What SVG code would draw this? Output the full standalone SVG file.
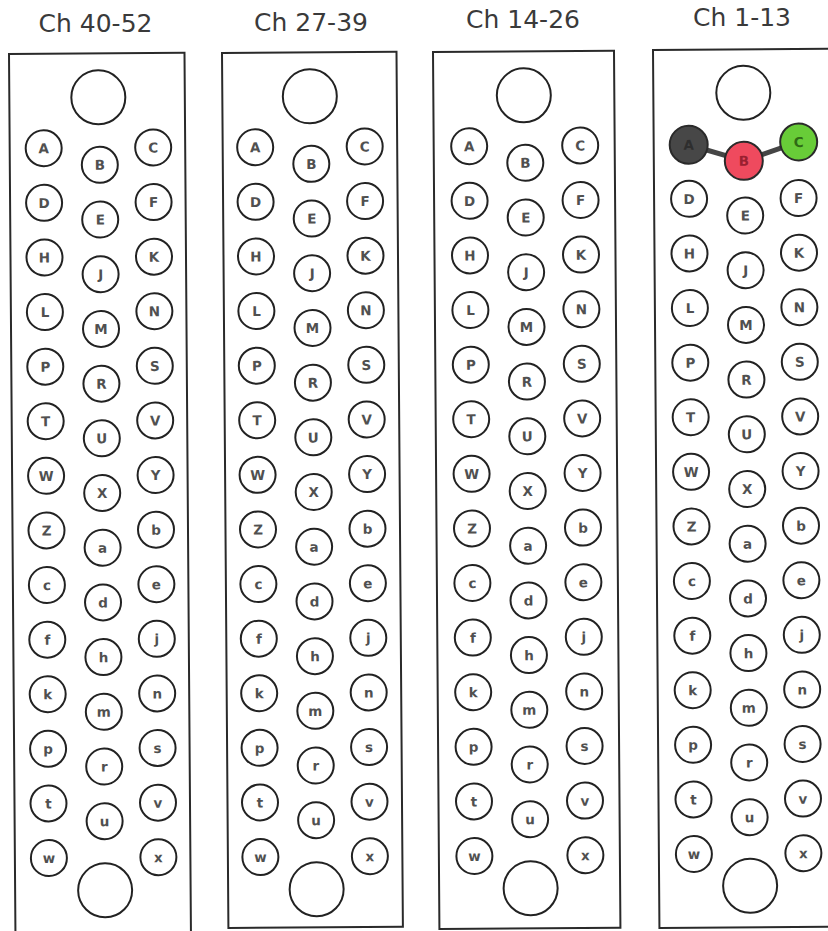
<svg xmlns="http://www.w3.org/2000/svg" width="828" height="931" viewBox="0 0 828 931">
<style>
.bg{fill:#ffffff}
.frame{fill:#ffffff;stroke:#2a2a2a;stroke-width:2}
.title{font-family:"DejaVu Sans",Verdana,sans-serif;font-size:25px;fill:#3a3a3a;text-anchor:middle}
.n circle{fill:#ffffff;stroke:#222222;stroke-width:2}
.n text{font-family:"DejaVu Sans",Verdana,sans-serif;font-size:13.5px;font-weight:bold;fill:#505050;text-anchor:middle}
.big{fill:#ffffff;stroke:#222222;stroke-width:2}
.link{stroke:#454545;stroke-width:5;stroke-linecap:round}
.n.dk circle{fill:#474747;stroke:#2a2a2a}
.n.dk text{fill:#2e2e2e}
.n.rd circle{fill:#ef4a5e;stroke:#2a2a2a}
.n.rd text{fill:#9a2030}
.n.gr circle{fill:#68cc38;stroke:#2a2a2a}
.n.gr text{fill:#2f6a15}
</style>
<rect class="bg" x="0" y="0" width="828" height="931"/>
<text class="title" x="95.5" y="32">Ch 40-52</text>
<text class="title" x="311" y="31">Ch 27-39</text>
<text class="title" x="523" y="28">Ch 14-26</text>
<text class="title" x="742" y="26">Ch 1-13</text>

<!-- Panel 1 -->
<g id="panel-40-52" transform="translate(9,54) rotate(-0.42)">
<rect class="frame" x="0" y="0" width="175.5" height="882"/>
<g id="p1-top"><circle class="big" cx="89" cy="44" r="27"/></g>
<g id="p1-bottom"><circle class="big" cx="90" cy="837" r="27"/></g>
<g id="p1-A" class="n" transform="translate(34,94.5)"><circle r="18"/><text y="5">A</text></g>
<g id="p1-D" class="n" transform="translate(34,149.1)"><circle r="18"/><text y="5">D</text></g>
<g id="p1-H" class="n" transform="translate(34,203.7)"><circle r="18"/><text y="5">H</text></g>
<g id="p1-L" class="n" transform="translate(34,258.3)"><circle r="18"/><text y="5">L</text></g>
<g id="p1-P" class="n" transform="translate(34,312.9)"><circle r="18"/><text y="5">P</text></g>
<g id="p1-T" class="n" transform="translate(34,367.5)"><circle r="18"/><text y="5">T</text></g>
<g id="p1-W" class="n" transform="translate(34,422.1)"><circle r="18"/><text y="5">W</text></g>
<g id="p1-Z" class="n" transform="translate(34,476.7)"><circle r="18"/><text y="5">Z</text></g>
<g id="p1-c" class="n" transform="translate(34,531.3)"><circle r="18"/><text y="5">c</text></g>
<g id="p1-f" class="n" transform="translate(34,585.9)"><circle r="18"/><text y="5">f</text></g>
<g id="p1-k" class="n" transform="translate(34,640.5)"><circle r="18"/><text y="5">k</text></g>
<g id="p1-p" class="n" transform="translate(34,695.1)"><circle r="18"/><text y="5">p</text></g>
<g id="p1-t" class="n" transform="translate(34,749.7)"><circle r="18"/><text y="5">t</text></g>
<g id="p1-w" class="n" transform="translate(34,804.3)"><circle r="18"/><text y="5">w</text></g>
<g id="p1-B" class="n" transform="translate(90,111.5)"><circle r="18"/><text y="5">B</text></g>
<g id="p1-E" class="n" transform="translate(90,166.2)"><circle r="18"/><text y="5">E</text></g>
<g id="p1-J" class="n" transform="translate(90,220.9)"><circle r="18"/><text y="5">J</text></g>
<g id="p1-M" class="n" transform="translate(90,275.6)"><circle r="18"/><text y="5">M</text></g>
<g id="p1-R" class="n" transform="translate(90,330.3)"><circle r="18"/><text y="5">R</text></g>
<g id="p1-U" class="n" transform="translate(90,385)"><circle r="18"/><text y="5">U</text></g>
<g id="p1-X" class="n" transform="translate(90,439.7)"><circle r="18"/><text y="5">X</text></g>
<g id="p1-a" class="n" transform="translate(90,494.4)"><circle r="18"/><text y="5">a</text></g>
<g id="p1-d" class="n" transform="translate(90,549.1)"><circle r="18"/><text y="5">d</text></g>
<g id="p1-h" class="n" transform="translate(90,603.8)"><circle r="18"/><text y="5">h</text></g>
<g id="p1-m" class="n" transform="translate(90,658.5)"><circle r="18"/><text y="5">m</text></g>
<g id="p1-r" class="n" transform="translate(90,713.2)"><circle r="18"/><text y="5">r</text></g>
<g id="p1-u" class="n" transform="translate(90,767.9)"><circle r="18"/><text y="5">u</text></g>
<g id="p1-C" class="n" transform="translate(143.5,94.5)"><circle r="18"/><text y="5">C</text></g>
<g id="p1-F" class="n" transform="translate(143.5,149.1)"><circle r="18"/><text y="5">F</text></g>
<g id="p1-K" class="n" transform="translate(143.5,203.7)"><circle r="18"/><text y="5">K</text></g>
<g id="p1-N" class="n" transform="translate(143.5,258.3)"><circle r="18"/><text y="5">N</text></g>
<g id="p1-S" class="n" transform="translate(143.5,312.9)"><circle r="18"/><text y="5">S</text></g>
<g id="p1-V" class="n" transform="translate(143.5,367.5)"><circle r="18"/><text y="5">V</text></g>
<g id="p1-Y" class="n" transform="translate(143.5,422.1)"><circle r="18"/><text y="5">Y</text></g>
<g id="p1-b" class="n" transform="translate(143.5,476.7)"><circle r="18"/><text y="5">b</text></g>
<g id="p1-e" class="n" transform="translate(143.5,531.3)"><circle r="18"/><text y="5">e</text></g>
<g id="p1-j" class="n" transform="translate(143.5,585.9)"><circle r="18"/><text y="5">j</text></g>
<g id="p1-n" class="n" transform="translate(143.5,640.5)"><circle r="18"/><text y="5">n</text></g>
<g id="p1-s" class="n" transform="translate(143.5,695.1)"><circle r="18"/><text y="5">s</text></g>
<g id="p1-v" class="n" transform="translate(143.5,749.7)"><circle r="18"/><text y="5">v</text></g>
<g id="p1-x" class="n" transform="translate(143.5,804.3)"><circle r="18"/><text y="5">x</text></g>
</g>

<!-- Panel 2 -->
<g id="panel-27-39" transform="translate(222,53) rotate(-0.42)">
<rect class="frame" x="0" y="0" width="174.5" height="875"/>
<g transform="translate(-1.5,0)">
<g id="p2-top"><circle class="big" cx="89" cy="44" r="27"/></g>
<g id="p2-bottom"><circle class="big" cx="90" cy="837" r="27"/></g>
<g id="p2-A" class="n" transform="translate(34,94.5)"><circle r="18"/><text y="5">A</text></g>
<g id="p2-D" class="n" transform="translate(34,149.1)"><circle r="18"/><text y="5">D</text></g>
<g id="p2-H" class="n" transform="translate(34,203.7)"><circle r="18"/><text y="5">H</text></g>
<g id="p2-L" class="n" transform="translate(34,258.3)"><circle r="18"/><text y="5">L</text></g>
<g id="p2-P" class="n" transform="translate(34,312.9)"><circle r="18"/><text y="5">P</text></g>
<g id="p2-T" class="n" transform="translate(34,367.5)"><circle r="18"/><text y="5">T</text></g>
<g id="p2-W" class="n" transform="translate(34,422.1)"><circle r="18"/><text y="5">W</text></g>
<g id="p2-Z" class="n" transform="translate(34,476.7)"><circle r="18"/><text y="5">Z</text></g>
<g id="p2-c" class="n" transform="translate(34,531.3)"><circle r="18"/><text y="5">c</text></g>
<g id="p2-f" class="n" transform="translate(34,585.9)"><circle r="18"/><text y="5">f</text></g>
<g id="p2-k" class="n" transform="translate(34,640.5)"><circle r="18"/><text y="5">k</text></g>
<g id="p2-p" class="n" transform="translate(34,695.1)"><circle r="18"/><text y="5">p</text></g>
<g id="p2-t" class="n" transform="translate(34,749.7)"><circle r="18"/><text y="5">t</text></g>
<g id="p2-w" class="n" transform="translate(34,804.3)"><circle r="18"/><text y="5">w</text></g>
<g id="p2-B" class="n" transform="translate(90,111.5)"><circle r="18"/><text y="5">B</text></g>
<g id="p2-E" class="n" transform="translate(90,166.2)"><circle r="18"/><text y="5">E</text></g>
<g id="p2-J" class="n" transform="translate(90,220.9)"><circle r="18"/><text y="5">J</text></g>
<g id="p2-M" class="n" transform="translate(90,275.6)"><circle r="18"/><text y="5">M</text></g>
<g id="p2-R" class="n" transform="translate(90,330.3)"><circle r="18"/><text y="5">R</text></g>
<g id="p2-U" class="n" transform="translate(90,385)"><circle r="18"/><text y="5">U</text></g>
<g id="p2-X" class="n" transform="translate(90,439.7)"><circle r="18"/><text y="5">X</text></g>
<g id="p2-a" class="n" transform="translate(90,494.4)"><circle r="18"/><text y="5">a</text></g>
<g id="p2-d" class="n" transform="translate(90,549.1)"><circle r="18"/><text y="5">d</text></g>
<g id="p2-h" class="n" transform="translate(90,603.8)"><circle r="18"/><text y="5">h</text></g>
<g id="p2-m" class="n" transform="translate(90,658.5)"><circle r="18"/><text y="5">m</text></g>
<g id="p2-r" class="n" transform="translate(90,713.2)"><circle r="18"/><text y="5">r</text></g>
<g id="p2-u" class="n" transform="translate(90,767.9)"><circle r="18"/><text y="5">u</text></g>
<g id="p2-C" class="n" transform="translate(143.5,94.5)"><circle r="18"/><text y="5">C</text></g>
<g id="p2-F" class="n" transform="translate(143.5,149.1)"><circle r="18"/><text y="5">F</text></g>
<g id="p2-K" class="n" transform="translate(143.5,203.7)"><circle r="18"/><text y="5">K</text></g>
<g id="p2-N" class="n" transform="translate(143.5,258.3)"><circle r="18"/><text y="5">N</text></g>
<g id="p2-S" class="n" transform="translate(143.5,312.9)"><circle r="18"/><text y="5">S</text></g>
<g id="p2-V" class="n" transform="translate(143.5,367.5)"><circle r="18"/><text y="5">V</text></g>
<g id="p2-Y" class="n" transform="translate(143.5,422.1)"><circle r="18"/><text y="5">Y</text></g>
<g id="p2-b" class="n" transform="translate(143.5,476.7)"><circle r="18"/><text y="5">b</text></g>
<g id="p2-e" class="n" transform="translate(143.5,531.3)"><circle r="18"/><text y="5">e</text></g>
<g id="p2-j" class="n" transform="translate(143.5,585.9)"><circle r="18"/><text y="5">j</text></g>
<g id="p2-n" class="n" transform="translate(143.5,640.5)"><circle r="18"/><text y="5">n</text></g>
<g id="p2-s" class="n" transform="translate(143.5,695.1)"><circle r="18"/><text y="5">s</text></g>
<g id="p2-v" class="n" transform="translate(143.5,749.7)"><circle r="18"/><text y="5">v</text></g>
<g id="p2-x" class="n" transform="translate(143.5,804.3)"><circle r="18"/><text y="5">x</text></g>
</g>
</g>

<!-- Panel 3 -->
<g id="panel-14-26" transform="translate(433,52) rotate(-0.42)">
<rect class="frame" x="0" y="0" width="181" height="877"/>
<g transform="translate(1.5,0)">
<g id="p3-top"><circle class="big" cx="89" cy="44" r="27"/></g>
<g id="p3-bottom"><circle class="big" cx="90" cy="837" r="27"/></g>
<g id="p3-A" class="n" transform="translate(34,94.5)"><circle r="18"/><text y="5">A</text></g>
<g id="p3-D" class="n" transform="translate(34,149.1)"><circle r="18"/><text y="5">D</text></g>
<g id="p3-H" class="n" transform="translate(34,203.7)"><circle r="18"/><text y="5">H</text></g>
<g id="p3-L" class="n" transform="translate(34,258.3)"><circle r="18"/><text y="5">L</text></g>
<g id="p3-P" class="n" transform="translate(34,312.9)"><circle r="18"/><text y="5">P</text></g>
<g id="p3-T" class="n" transform="translate(34,367.5)"><circle r="18"/><text y="5">T</text></g>
<g id="p3-W" class="n" transform="translate(34,422.1)"><circle r="18"/><text y="5">W</text></g>
<g id="p3-Z" class="n" transform="translate(34,476.7)"><circle r="18"/><text y="5">Z</text></g>
<g id="p3-c" class="n" transform="translate(34,531.3)"><circle r="18"/><text y="5">c</text></g>
<g id="p3-f" class="n" transform="translate(34,585.9)"><circle r="18"/><text y="5">f</text></g>
<g id="p3-k" class="n" transform="translate(34,640.5)"><circle r="18"/><text y="5">k</text></g>
<g id="p3-p" class="n" transform="translate(34,695.1)"><circle r="18"/><text y="5">p</text></g>
<g id="p3-t" class="n" transform="translate(34,749.7)"><circle r="18"/><text y="5">t</text></g>
<g id="p3-w" class="n" transform="translate(34,804.3)"><circle r="18"/><text y="5">w</text></g>
<g id="p3-B" class="n" transform="translate(90,111.5)"><circle r="18"/><text y="5">B</text></g>
<g id="p3-E" class="n" transform="translate(90,166.2)"><circle r="18"/><text y="5">E</text></g>
<g id="p3-J" class="n" transform="translate(90,220.9)"><circle r="18"/><text y="5">J</text></g>
<g id="p3-M" class="n" transform="translate(90,275.6)"><circle r="18"/><text y="5">M</text></g>
<g id="p3-R" class="n" transform="translate(90,330.3)"><circle r="18"/><text y="5">R</text></g>
<g id="p3-U" class="n" transform="translate(90,385)"><circle r="18"/><text y="5">U</text></g>
<g id="p3-X" class="n" transform="translate(90,439.7)"><circle r="18"/><text y="5">X</text></g>
<g id="p3-a" class="n" transform="translate(90,494.4)"><circle r="18"/><text y="5">a</text></g>
<g id="p3-d" class="n" transform="translate(90,549.1)"><circle r="18"/><text y="5">d</text></g>
<g id="p3-h" class="n" transform="translate(90,603.8)"><circle r="18"/><text y="5">h</text></g>
<g id="p3-m" class="n" transform="translate(90,658.5)"><circle r="18"/><text y="5">m</text></g>
<g id="p3-r" class="n" transform="translate(90,713.2)"><circle r="18"/><text y="5">r</text></g>
<g id="p3-u" class="n" transform="translate(90,767.9)"><circle r="18"/><text y="5">u</text></g>
<g id="p3-C" class="n" transform="translate(145,94.5)"><circle r="18"/><text y="5">C</text></g>
<g id="p3-F" class="n" transform="translate(145,149.1)"><circle r="18"/><text y="5">F</text></g>
<g id="p3-K" class="n" transform="translate(145,203.7)"><circle r="18"/><text y="5">K</text></g>
<g id="p3-N" class="n" transform="translate(145,258.3)"><circle r="18"/><text y="5">N</text></g>
<g id="p3-S" class="n" transform="translate(145,312.9)"><circle r="18"/><text y="5">S</text></g>
<g id="p3-V" class="n" transform="translate(145,367.5)"><circle r="18"/><text y="5">V</text></g>
<g id="p3-Y" class="n" transform="translate(145,422.1)"><circle r="18"/><text y="5">Y</text></g>
<g id="p3-b" class="n" transform="translate(145,476.7)"><circle r="18"/><text y="5">b</text></g>
<g id="p3-e" class="n" transform="translate(145,531.3)"><circle r="18"/><text y="5">e</text></g>
<g id="p3-j" class="n" transform="translate(145,585.9)"><circle r="18"/><text y="5">j</text></g>
<g id="p3-n" class="n" transform="translate(145,640.5)"><circle r="18"/><text y="5">n</text></g>
<g id="p3-s" class="n" transform="translate(145,695.1)"><circle r="18"/><text y="5">s</text></g>
<g id="p3-v" class="n" transform="translate(145,749.7)"><circle r="18"/><text y="5">v</text></g>
<g id="p3-x" class="n" transform="translate(145,804.3)"><circle r="18"/><text y="5">x</text></g>
</g>
</g>

<!-- Panel 4 -->
<g id="panel-1-13" transform="translate(653,50) rotate(-0.42)">
<rect class="frame" x="0" y="0" width="178" height="878"/>
<g id="p4-connectors">
<line class="link" x1="35" y1="95" x2="90" y2="111.5"/>
<line class="link" x1="90" y1="111.5" x2="145" y2="93"/>
</g>
<g id="p4-top"><circle class="big" cx="90" cy="43.5" r="27"/></g>
<g id="p4-bottom"><circle class="big" cx="91" cy="836.5" r="27"/></g>
<g id="p4-A" class="n dk" transform="translate(35,95)"><circle r="19"/><text y="5">A</text></g>
<g id="p4-D" class="n" transform="translate(35,149.1)"><circle r="18"/><text y="5">D</text></g>
<g id="p4-H" class="n" transform="translate(35,203.7)"><circle r="18"/><text y="5">H</text></g>
<g id="p4-L" class="n" transform="translate(35,258.3)"><circle r="18"/><text y="5">L</text></g>
<g id="p4-P" class="n" transform="translate(35,312.9)"><circle r="18"/><text y="5">P</text></g>
<g id="p4-T" class="n" transform="translate(35,367.5)"><circle r="18"/><text y="5">T</text></g>
<g id="p4-W" class="n" transform="translate(35,422.1)"><circle r="18"/><text y="5">W</text></g>
<g id="p4-Z" class="n" transform="translate(35,476.7)"><circle r="18"/><text y="5">Z</text></g>
<g id="p4-c" class="n" transform="translate(35,531.3)"><circle r="18"/><text y="5">c</text></g>
<g id="p4-f" class="n" transform="translate(35,585.9)"><circle r="18"/><text y="5">f</text></g>
<g id="p4-k" class="n" transform="translate(35,640.5)"><circle r="18"/><text y="5">k</text></g>
<g id="p4-p" class="n" transform="translate(35,695.1)"><circle r="18"/><text y="5">p</text></g>
<g id="p4-t" class="n" transform="translate(35,749.7)"><circle r="18"/><text y="5">t</text></g>
<g id="p4-w" class="n" transform="translate(35,804.3)"><circle r="18"/><text y="5">w</text></g>
<g id="p4-B" class="n rd" transform="translate(90,111.5)"><circle r="19"/><text y="5">B</text></g>
<g id="p4-E" class="n" transform="translate(91,166.2)"><circle r="18"/><text y="5">E</text></g>
<g id="p4-J" class="n" transform="translate(91,220.9)"><circle r="18"/><text y="5">J</text></g>
<g id="p4-M" class="n" transform="translate(91,275.6)"><circle r="18"/><text y="5">M</text></g>
<g id="p4-R" class="n" transform="translate(91,330.3)"><circle r="18"/><text y="5">R</text></g>
<g id="p4-U" class="n" transform="translate(91,385)"><circle r="18"/><text y="5">U</text></g>
<g id="p4-X" class="n" transform="translate(91,439.7)"><circle r="18"/><text y="5">X</text></g>
<g id="p4-a" class="n" transform="translate(91,494.4)"><circle r="18"/><text y="5">a</text></g>
<g id="p4-d" class="n" transform="translate(91,549.1)"><circle r="18"/><text y="5">d</text></g>
<g id="p4-h" class="n" transform="translate(91,603.8)"><circle r="18"/><text y="5">h</text></g>
<g id="p4-m" class="n" transform="translate(91,658.5)"><circle r="18"/><text y="5">m</text></g>
<g id="p4-r" class="n" transform="translate(91,713.2)"><circle r="18"/><text y="5">r</text></g>
<g id="p4-u" class="n" transform="translate(91,767.9)"><circle r="18"/><text y="5">u</text></g>
<g id="p4-C" class="n gr" transform="translate(145,93)"><circle r="18.5"/><text y="5">C</text></g>
<g id="p4-F" class="n" transform="translate(144.5,149.1)"><circle r="18"/><text y="5">F</text></g>
<g id="p4-K" class="n" transform="translate(144.5,203.7)"><circle r="18"/><text y="5">K</text></g>
<g id="p4-N" class="n" transform="translate(144.5,258.3)"><circle r="18"/><text y="5">N</text></g>
<g id="p4-S" class="n" transform="translate(144.5,312.9)"><circle r="18"/><text y="5">S</text></g>
<g id="p4-V" class="n" transform="translate(144.5,367.5)"><circle r="18"/><text y="5">V</text></g>
<g id="p4-Y" class="n" transform="translate(144.5,422.1)"><circle r="18"/><text y="5">Y</text></g>
<g id="p4-b" class="n" transform="translate(144.5,476.7)"><circle r="18"/><text y="5">b</text></g>
<g id="p4-e" class="n" transform="translate(144.5,531.3)"><circle r="18"/><text y="5">e</text></g>
<g id="p4-j" class="n" transform="translate(144.5,585.9)"><circle r="18"/><text y="5">j</text></g>
<g id="p4-n" class="n" transform="translate(144.5,640.5)"><circle r="18"/><text y="5">n</text></g>
<g id="p4-s" class="n" transform="translate(144.5,695.1)"><circle r="18"/><text y="5">s</text></g>
<g id="p4-v" class="n" transform="translate(144.5,749.7)"><circle r="18"/><text y="5">v</text></g>
<g id="p4-x" class="n" transform="translate(144.5,804.3)"><circle r="18"/><text y="5">x</text></g>
</g>
</svg>
